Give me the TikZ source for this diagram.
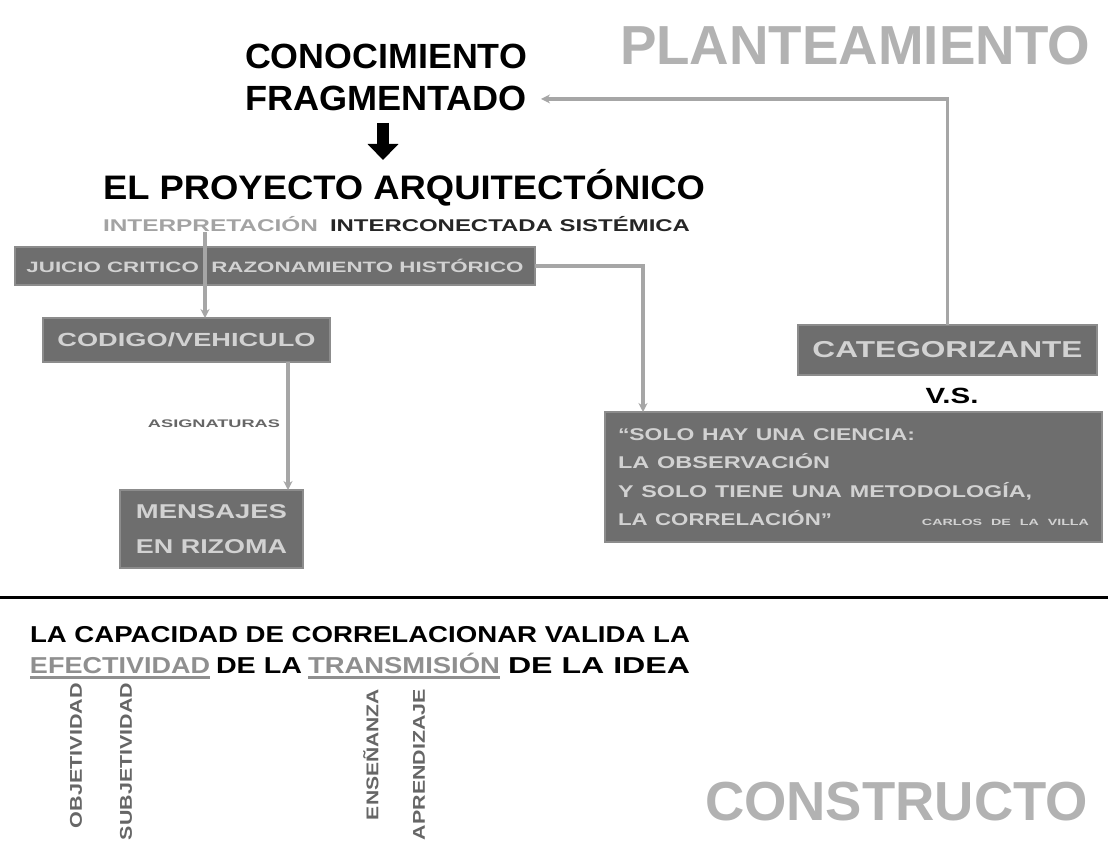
\documentclass[tikz,border=0pt]{standalone}
\usepackage{fontspec}
\setmainfont{Liberation Sans}
\usepackage{graphicx}
\usetikzlibrary{arrows.meta}
\definecolor{boxfill}{HTML}{6E6E6E}
\definecolor{boxedge}{HTML}{8C8C8C}
\definecolor{boxtext}{HTML}{D2D2D2}
\definecolor{conncol}{HTML}{A6A6A6}
\definecolor{lightttl}{HTML}{B2B2B2}
\definecolor{interpcol}{HTML}{A3A3A3}
\definecolor{darktxt}{HTML}{262626}
\definecolor{vertcol}{HTML}{666666}
\definecolor{ulcol}{HTML}{8F8F8F}
\newcommand\fitw[2]{\resizebox{#1}{\height}{#2}}
\newcommand\fsz[2]{\fontsize{#1}{#2}\selectfont}
\begin{document}
\begin{tikzpicture}[x=1pt,y=-1pt,
  txt/.style={inner sep=0pt, outer sep=0pt, font=\bfseries},
  box/.style={fill=boxfill, draw=boxedge, line width=1.5pt, inner sep=0pt, outer sep=0pt, text=boxtext, font=\bfseries, anchor=north west},
  conn/.style={draw=conncol, line width=3.3pt},
  tip/.style={-{Stealth[length=9pt,width=9pt]}},
  vert/.style={txt, rotate=90, anchor=east, text=vertcol, font=\bfseries\fsz{17}{20}},
  ul/.style={draw=ulcol, line width=3pt},
]
\useasboundingbox[fill=white] (0,0) rectangle (1112,850);

% titles
\node[txt, text=lightttl, anchor=base west, font=\bfseries\fsz{55}{60}] (plan) at (620,65) {\fitw{470pt}{PLANTEAMIENTO}};
\node[txt, text=lightttl, anchor=base west, font=\bfseries\fsz{55}{60}] (constr) at (705,820) {\fitw{383pt}{CONSTRUCTO}};

% top texts
\node[txt, text=black, anchor=base west, font=\bfseries\fsz{35}{40}] (conoc) at (245,69) {\fitw{282pt}{CONOCIMIENTO}};
\node[txt, text=black, anchor=base west, font=\bfseries\fsz{35}{40}] (frag) at (245,111) {\fitw{282pt}{FRAGMENTADO}};
\node[txt, text=black, anchor=base west, font=\bfseries\fsz{34}{40}] (proy) at (103,200) {\fitw{602pt}{EL PROYECTO ARQUITECTÓNICO}};
\node[txt, text=interpcol, anchor=base west, font=\bfseries\fsz{17}{20}] (interp) at (103,232) {\fitw{215pt}{INTERPRETACIÓN}};
\node[txt, text=darktxt, anchor=base west, font=\bfseries\fsz{17}{20}] (intercon) at (330,232) {\fitw{360pt}{INTERCONECTADA SISTÉMICA}};

% black arrow
\coordinate (arrtop) at (383,123);
\coordinate (arrbot) at (383,160);
\draw[line width=12pt, -{Triangle[length=16pt,width=30pt]}] (arrtop) -- (arrbot);

% boxes
\node[box, minimum width=520pt, minimum height=38pt, font=\bfseries\fsz{15}{18}] (juicio) at (15,247) {\fitw{497pt}{JUICIO CRITICO \ RAZONAMIENTO HISTÓRICO}};
\node[box, minimum width=287pt, minimum height=44pt, font=\bfseries\fsz{19}{22}] (codigo) at (43,318) {\fitw{258pt}{CODIGO/VEHICULO}};
\node[box, minimum width=183pt, minimum height=78pt, align=left, font=\bfseries\fsz{20}{35}] (mens) at (120,490) {\fitw{151pt}{MENSAJES}\\\fitw{151pt}{EN RIZOMA}};
\node[box, minimum width=299pt, minimum height=50pt, font=\bfseries\fsz{23}{26}] (cat) at (798,325) {\fitw{270pt}{CATEGORIZANTE}};
\node[txt, text=black, anchor=base, font=\bfseries\fsz{22}{24}] (vs) at (952,404) {\fitw{53pt}{V.S.}};
\node[box, minimum width=497pt, minimum height=130pt, text width=471pt, align=left, font=\bfseries\fsz{17}{28.5}] (quote) at (605,412)
  {\fitw{297pt}{“SOLO HAY UNA CIENCIA:}\\
   \fitw{212pt}{LA OBSERVACIÓN}\\
   \fitw{414pt}{Y SOLO TIENE UNA METODOLOGÍA,}\\
   \fitw{214pt}{LA CORRELACIÓN”}\hfill{\fsz{9}{10}\fitw{167pt}{CARLOS DE LA VILLA}}};

\node[txt, text=vertcol, font=\bfseries\fsz{11}{13}] (asig) at (214,424) {\fitw{132pt}{ASIGNATURAS}};

% connectors
\draw[conn, tip] ([xshift=102pt]interp.south west) -- ([xshift=162pt]codigo.north west);
\draw[conn, tip] ([xshift=245pt]codigo.south west) -- ([xshift=168pt]mens.north west);
\draw[conn, tip] (juicio.east) -| ([xshift=38pt]quote.north west);
\draw[conn, tip] (cat.north) |- ([xshift=14pt]frag.east);

% separator
\draw[line width=3pt, black] (0,597) -- (1108,597);

% bottom statement
\node[txt, text=black, anchor=base west, font=\bfseries\fsz{23}{26}] (cap) at (30,642) {\fitw{660pt}{LA CAPACIDAD DE CORRELACIONAR VALIDA LA}};
\node[txt, text=ulcol, anchor=base west, font=\bfseries\fsz{23}{26}] (efec) at (30,673) {\fitw{180pt}{EFECTIVIDAD}};
\node[txt, text=black, anchor=base west, font=\bfseries\fsz{23}{26}] (dela1) at (216,673) {\fitw{86pt}{DE LA}};
\node[txt, text=ulcol, anchor=base west, font=\bfseries\fsz{23}{26}] (trans) at (308,673) {\fitw{192pt}{TRANSMISIÓN}};
\node[txt, text=black, anchor=base west, font=\bfseries\fsz{23}{26}] (dela2) at (508,673) {\fitw{182pt}{DE LA IDEA}};
\draw[ul] ([yshift=-4pt]efec.base west) -- ([yshift=-4pt]efec.base east);
\draw[ul] ([yshift=-4pt]trans.base west) -- ([yshift=-4pt]trans.base east);

% vertical words
\node[vert] (obj) at (76,683) {\fitw{145pt}{OBJETIVIDAD}};
\node[vert] (subj) at (126,683) {\fitw{157pt}{SUBJETIVIDAD}};
\node[vert] (ens) at (371,689) {\fitw{131pt}{ENSEÑANZA}};
\node[vert] (apr) at (419,689) {\fitw{151pt}{APRENDIZAJE}};
\end{tikzpicture}
\end{document}
